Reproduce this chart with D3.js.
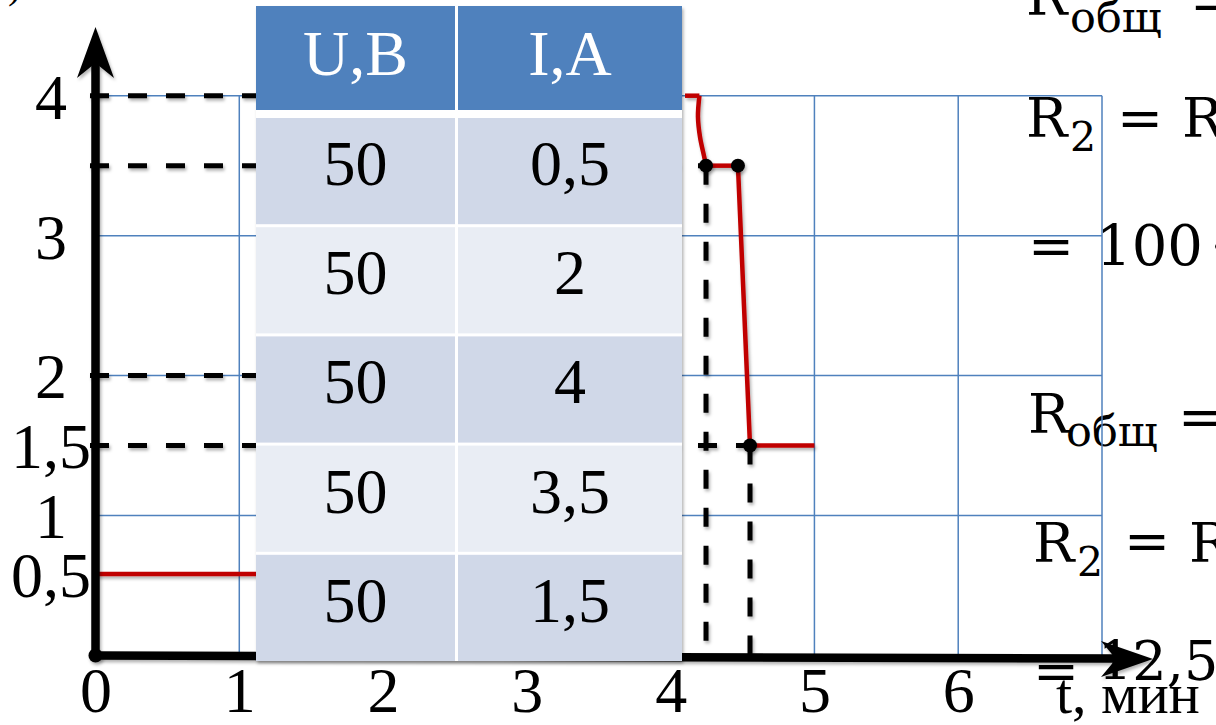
<!DOCTYPE html>
<html>
<head>
<meta charset="utf-8">
<script src="https://cdn.jsdelivr.net/npm/d3@7"></script>
<style>
  body { margin: 0; background: #fff; }
  svg { display: block; }
</style>
</head>
<body>
<div id="chart"></div>
<script>
// table values
var tableHeader = ['U,B', 'I,A'];
var voltage = [50, 50, 50, 50, 50];
var current = [0.5, 2, 4, 3.5, 1.5];

// ticks and grid
var timeTicks = [0, 1, 2, 3, 4, 5, 6];
var currentTicks = [0.5, 1, 1.5, 2, 3, 4];
var gridTime = [1, 2, 3, 4, 5, 6, 7];
var gridCurrent = [1, 2, 3, 4];

// current curve pieces, [t, I]
var redLow = [[0, 0.5], [1.2, 0.5]];
var redTop = [[4.1, 4], [4.2, 4]];
var redDrop1 = [[4.2, 4], [4.19, 3.85], [4.205, 3.7], [4.232, 3.57], [4.246, 3.5]];
var redMid = [[4.246, 3.5], [4.468, 3.5]];
var redDrop2 = [[4.468, 3.5], [4.489, 3.0], [4.531, 2.0], [4.552, 1.5]];
var redEnd = [[4.552, 1.5], [5.0, 1.5]];

// dashed guides
var guideLevels = [4, 3.5, 2, 1.5];
var guideEnds = [4.1, 4.246, 2, 4.552];
var dropTimes = [4.246, 4.552];
var dropLevels = [3.5, 1.5];
var markers = [[4.246, 3.5], [4.468, 3.5], [4.552, 1.5]];

// formula text on the right side of the slide
var formulaText = [
  ['R', 'общ', '='],
  ['R', '2', '=', 'R'],
  ['=', '100', '·'],
  ['R', 'общ', '='],
  ['R', '2', '=', 'R'],
  ['=', '12,5']
];

(function()
{
  var width = 1216,
      height = 725,
      serif = '"Liberation Serif", "Times New Roman", serif',
      mathFont = '"DejaVu Serif", serif',
      red = '#C00000',
      gridBlue = '#4F81BD',
      fmt = d3.formatLocale({ decimal: ',', thousands: ' ', grouping: [3], currency: ['', ''] }).format('~g');

  var x = d3.scaleLinear().domain([0, 7]).range([95.5, 1102]);
  // hand drawn axis: the 0,5 mark sits a little above the linear spot
  var y = d3.scaleLinear().domain([0, 0.5, 1, 4]).range([655.5, 574, 515.5, 95.7]);

  var svg = d3.select('#chart')
    .append('svg')
      .attr('width', width)
      .attr('height', height)
      .style('background', '#fff');

  var defs = svg.append('defs');
  defs.append('filter')
      .attr('id', 'shadow')
      .attr('filterUnits', 'userSpaceOnUse')
      .attr('x', 0).attr('y', 0)
      .attr('width', width).attr('height', height)
    .append('feDropShadow')
      .attr('dx', 1.5)
      .attr('dy', 2.5)
      .attr('stdDeviation', 1.5)
      .attr('flood-color', '#000')
      .attr('flood-opacity', 0.3);

  /*-- formula text (behind the chart) --*/
  var formulaLayout = [
    [ { x: 1026, y: 15, s: 55 }, { x: 1070, y: 32, s: 43 }, { x: 1190, y: 20, s: 55 } ],
    [ { x: 1026, y: 137, s: 55 }, { x: 1070, y: 151, s: 41 }, { x: 1117, y: 137, s: 55 }, { x: 1182, y: 137, s: 55 } ],
    [ { x: 1028, y: 265, s: 55 }, { x: 1096, y: 265, s: 56 }, { x: 1210, y: 265, s: 55 } ],
    [ { x: 1028, y: 433, s: 55 }, { x: 1066, y: 446, s: 43 }, { x: 1178, y: 436, s: 55 } ],
    [ { x: 1033, y: 562, s: 55 }, { x: 1077, y: 576, s: 41 }, { x: 1124, y: 560, s: 55 }, { x: 1189, y: 562, s: 55 } ],
    [ { x: 1033, y: 690, s: 55 }, { x: 1098, y: 680, s: 54 } ]
  ];
  var formula = svg.append('g').attr('class', 'formula');
  formulaText.forEach(function( row, i )
  {
    row.forEach(function( str, j )
    {
      var p = formulaLayout[i][j];
      formula.append('text')
        .attr('x', p.x)
        .attr('y', p.y)
        .style('font-family', mathFont)
        .style('font-size', p.s + 'px')
        .style('fill', '#000')
        .text(str);
    });
  });

  // stray bracket of a clipped label in the corner
  svg.append('text')
    .attr('x', 8)
    .attr('y', -2)
    .style('font-family', serif)
    .style('font-size', '40px')
    .text(')');

  /*-- grid --*/
  var grid = svg.append('g').attr('class', 'grid')
    .style('stroke', gridBlue)
    .style('stroke-width', 1.5);

  grid.selectAll('line.h')
    .data(gridCurrent)
    .enter()
      .append('line')
      .attr('class', 'h')
      .attr('x1', x(0)).attr('x2', x(7))
      .attr('y1', function(d) { return y(d); })
      .attr('y2', function(d) { return y(d); });

  grid.selectAll('line.v')
    .data(gridTime)
    .enter()
      .append('line')
      .attr('class', 'v')
      .attr('y1', y(0)).attr('y2', y(4))
      .attr('x1', function(d) { return x(d); })
      .attr('x2', function(d) { return x(d); });

  /*-- dashed guides --*/
  var guides = svg.append('g')
    .attr('class', 'guides')
    .attr('filter', 'url(#shadow)')
    .style('stroke', '#000')
    .style('stroke-width', 5)
    .style('stroke-dasharray', '19,19');

  guides.selectAll('line.h')
    .data(guideLevels)
    .enter()
      .append('line')
      .attr('class', 'h')
      .attr('x1', 90)
      .attr('x2', function(d, i) { return x(guideEnds[i]); })
      .attr('y1', function(d) { return y(d); })
      .attr('y2', function(d) { return y(d); });

  guides.selectAll('line.v')
    .data(dropTimes)
    .enter()
      .append('line')
      .attr('class', 'v')
      .attr('x1', function(d) { return x(d); })
      .attr('x2', function(d) { return x(d); })
      .attr('y1', function(d, i) { return y(dropLevels[i]); })
      .attr('y2', y(0));

  /*-- red current curve --*/
  var straight = d3.line()
    .x(function(d) { return x(d[0]); })
    .y(function(d) { return y(d[1]); });
  var smooth = d3.line()
    .curve(d3.curveCatmullRom.alpha(0.5))
    .x(function(d) { return x(d[0]); })
    .y(function(d) { return y(d[1]); });

  var curve = svg.append('g')
    .attr('class', 'curve')
    .attr('filter', 'url(#shadow)')
    .style('fill', 'none')
    .style('stroke', red)
    .style('stroke-width', 4.5);

  [redLow, redTop, redMid, redEnd].forEach(function( seg )
  {
    curve.append('path').attr('d', straight(seg));
  });
  [redDrop1, redDrop2].forEach(function( seg )
  {
    curve.append('path').attr('d', smooth(seg));
  });

  /*-- axes with arrows --*/
  var axes = svg.append('g')
    .attr('class', 'axes')
    .attr('filter', 'url(#shadow)');

  axes.append('line')
    .attr('x1', x(0)).attr('y1', y(0))
    .attr('x2', x(0)).attr('y2', 62)
    .style('stroke', '#000')
    .style('stroke-width', 8.5);

  axes.append('path')
    .attr('d', 'M' + x(0) + ',27 L' + (x(0) + 18.5) + ',78 L' + x(0) + ',63 L' + (x(0) - 18.5) + ',78 Z')
    .style('fill', '#000');

  axes.append('line')
    .attr('x1', x(0)).attr('y1', y(0))
    .attr('x2', 1118).attr('y2', 658.5)
    .style('stroke', '#000')
    .style('stroke-width', 8.5);

  axes.append('path')
    .attr('d', 'M1153,659 L1101,641 L1116,659 L1101,677 Z')
    .style('fill', '#000');

  /*-- marked points --*/
  svg.append('g')
    .attr('class', 'markers')
    .attr('filter', 'url(#shadow)')
    .selectAll('circle')
    .data(markers.concat([[0, 0]]))
    .enter()
      .append('circle')
      .attr('cx', function(d) { return x(d[0]); })
      .attr('cy', function(d) { return y(d[1]); })
      .attr('r', 7)
      .style('fill', '#000');

  /*-- tick labels --*/
  var xAxis = svg.append('g')
    .attr('transform', 'translate(0,' + y(0) + ')')
    .call(d3.axisBottom(x).tickValues(timeTicks).tickSize(0).tickPadding(11).tickFormat(fmt));
  xAxis.select('.domain').remove();
  xAxis.selectAll('text')
    .style('font-family', serif)
    .style('font-size', '64px')
    .style('fill', '#000');

  var yAxis = svg.append('g')
    .attr('transform', 'translate(' + x(0) + ',0)')
    .call(d3.axisLeft(y).tickValues(currentTicks).tickSize(0).tickFormat(fmt));
  yAxis.select('.domain').remove();
  yAxis.selectAll('text')
    .attr('x', 51 - x(0))
    .attr('dy', '0.35em')
    .attr('text-anchor', 'middle')
    .style('font-family', serif)
    .style('font-size', '64px')
    .style('fill', '#000');

  /*-- table on top --*/
  drawTable();

  /*-- time axis title --*/
  svg.append('text')
    .attr('x', 1056)
    .attr('y', 713)
    .style('font-family', serif)
    .style('font-size', '58px')
    .style('fill', '#000')
    .text('t, мин');


  function drawTable()
  {
    var cols = [ { x0: 256, x1: 455 }, { x0: 458, x1: 682 } ],
        rows = d3.scaleBand().domain(d3.range(current.length)).range([118, 661]).paddingInner(0.0275),
        body = voltage.map(function( v, i ) { return [fmt(v), fmt(current[i])]; }),
        table = svg.append('g').attr('class', 'table');

    table.append('rect')
      .attr('x', 256).attr('y', 6)
      .attr('width', 682 - 256).attr('height', 661 - 6)
      .attr('filter', 'url(#shadow)')
      .style('fill', '#fff');

    // header
    table.selectAll('rect.head')
      .data(cols)
      .enter()
        .append('rect')
        .attr('class', 'head')
        .attr('x', function(d) { return d.x0; })
        .attr('y', 6)
        .attr('width', function(d) { return d.x1 - d.x0; })
        .attr('height', 104)
        .style('fill', '#4F81BD');

    table.selectAll('text.head')
      .data(tableHeader)
      .enter()
        .append('text')
        .attr('class', 'head')
        .attr('x', function(d, i) { return (cols[i].x0 + cols[i].x1) / 2; })
        .attr('y', 75)
        .attr('text-anchor', 'middle')
        .style('font-family', serif)
        .style('font-size', '64px')
        .style('fill', '#fff')
        .text(function(d) { return d; });

    // body rows
    var row = table.selectAll('g.row')
      .data(body)
      .enter()
        .append('g')
        .attr('class', 'row')
        .attr('transform', function(d, i) { return 'translate(0,' + rows(i) + ')'; });

    row.selectAll('rect')
      .data(function(d, i) { return d.map(function() { return i; }); })
      .enter()
        .append('rect')
        .attr('x', function(d, j) { return cols[j].x0; })
        .attr('width', function(d, j) { return cols[j].x1 - cols[j].x0; })
        .attr('height', rows.bandwidth())
        .style('fill', function(d) { return d % 2 ? '#E9EDF4' : '#D0D8E8'; });

    row.selectAll('text')
      .data(function(d) { return d; })
      .enter()
        .append('text')
        .attr('x', function(d, j) { return (cols[j].x0 + cols[j].x1) / 2; })
        .attr('y', 67)
        .attr('text-anchor', 'middle')
        .style('font-family', serif)
        .style('font-size', '64px')
        .style('fill', '#000')
        .text(function(d) { return d; });
  }
})();
</script>
</body>
</html>
